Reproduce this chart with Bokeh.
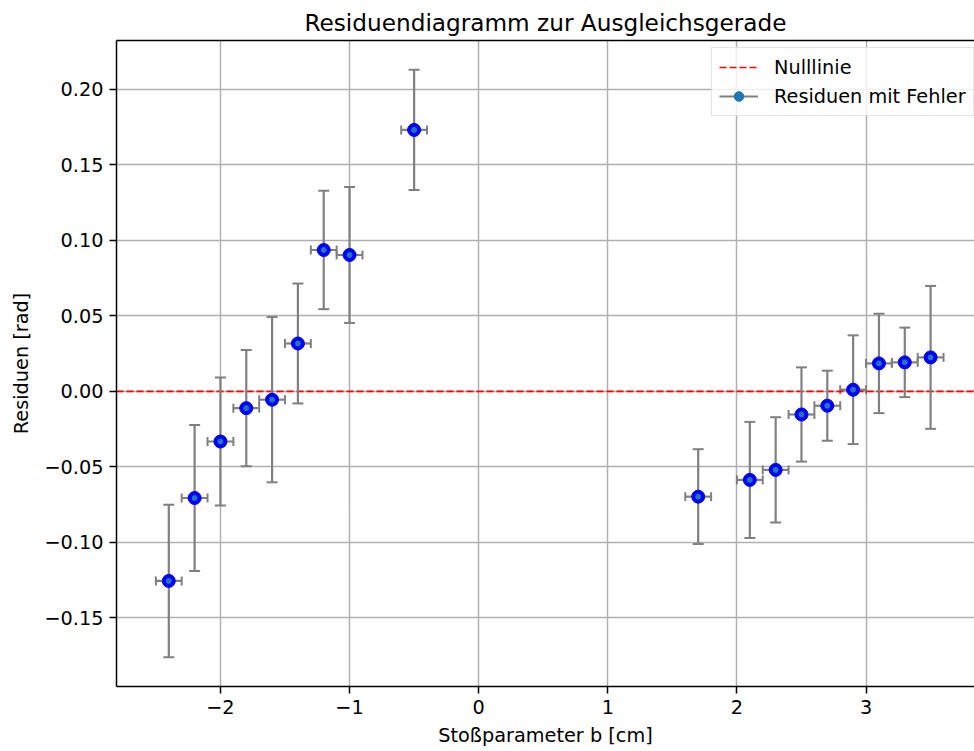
from bokeh.plotting import figure
from bokeh.models import (ColumnDataSource, Whisker, TeeHead, Legend, LegendItem,
                          CustomJSTickFormatter, FixedTicker, LinearAxis, Range1d)
from bokeh.embed import file_html
from bokeh.resources import INLINE

# data
b_values = [-2.4, -2.2, -2.0, -1.8, -1.6, -1.4, -1.2, -1.0, -0.5,
            1.7, 2.1, 2.3, 2.5, 2.7, 2.9, 3.1, 3.3, 3.5]
residuals = [-0.1255, -0.0706, -0.0332, -0.0111, -0.0055, 0.0317, 0.0936, 0.0903, 0.1731,
             -0.0697, -0.0586, -0.0520, -0.0153, -0.0095, 0.0011, 0.0185, 0.0192, 0.0225]
res_err = [0.0505, 0.0483, 0.0423, 0.0385, 0.0547, 0.0397, 0.0392, 0.0450, 0.0398,
           0.0314, 0.0384, 0.0349, 0.0312, 0.0232, 0.0360, 0.0329, 0.0230, 0.0473]
b_err = [0.1] * len(b_values)
x_ticks = [-2, -1, 0, 1, 2, 3]
y_ticks = [-0.15, -0.10, -0.05, 0.0, 0.05, 0.10, 0.15, 0.20]

FONT = "DejaVu Sans"
FS = "19.3px"

src = ColumnDataSource(dict(
    x=b_values, y=residuals,
    y_lo=[y - e for y, e in zip(residuals, res_err)],
    y_hi=[y + e for y, e in zip(residuals, res_err)],
    x_lo=[x - e for x, e in zip(b_values, b_err)],
    x_hi=[x + e for x, e in zip(b_values, b_err)],
))

p = figure(width=974, height=751, output_backend="svg", toolbar_location=None,
           x_range=Range1d(-2.805, 3.84), y_range=Range1d(-0.1954, 0.2323),
           min_border_left=116, min_border_right=0, min_border_top=40, min_border_bottom=65,
           title="Residuendiagramm zur Ausgleichsgerade")
p.background_fill_color = "white"
p.border_fill_color = "white"
p.outline_line_color = None

p.title.text_font = FONT
p.title.text_font_size = "23.2px"
p.title.text_font_style = "normal"
p.title.align = "center"
p.title.text_color = "black"
p.title.standoff = 9

# grid
p.xgrid.ticker = FixedTicker(ticks=x_ticks)
p.ygrid.ticker = FixedTicker(ticks=y_ticks)
for g in (p.xgrid, p.ygrid):
    g.grid_line_color = "#b0b0b0"
    g.grid_line_width = 1.5

fmt_x = CustomJSTickFormatter(code="return (tick < 0 ? '\u2212' : '') + Math.abs(tick).toFixed(0);")
fmt_y = CustomJSTickFormatter(code="return (tick < -1e-9 ? '\u2212' : '') + Math.abs(tick).toFixed(2);")
p.xaxis.ticker = FixedTicker(ticks=x_ticks)
p.yaxis.ticker = FixedTicker(ticks=y_ticks)
p.xaxis.formatter = fmt_x
p.yaxis.formatter = fmt_y
p.xaxis.axis_label = "Stoßparameter b [cm]"
p.yaxis.axis_label = "Residuen [rad]"
for ax in (p.xaxis, p.yaxis):
    ax.axis_label_text_font = FONT
    ax.axis_label_text_font_size = FS
    ax.axis_label_text_font_style = "normal"
    ax.axis_label_text_color = "black"
    ax.major_label_text_font = FONT
    ax.major_label_text_font_size = FS
    ax.major_label_text_color = "black"
    ax.axis_line_color = "black"
    ax.axis_line_width = 1.5
    ax.major_tick_line_color = "black"
    ax.major_tick_line_width = 1.5
    ax.major_tick_out = 7
    ax.major_tick_in = 0
    ax.minor_tick_line_color = None
    ax.major_label_standoff = 6
p.xaxis.axis_label_standoff = 7
p.yaxis.axis_label_standoff = 8

# top spine
top = LinearAxis(ticker=FixedTicker(ticks=[]), major_label_text_font_size="0px",
                 major_tick_line_color=None, minor_tick_line_color=None,
                 axis_line_color="black", axis_line_width=1.5)
p.add_layout(top, "above")

# zero line
zero = p.line(x=[-2.805, 3.84], y=[0, 0], line_color="red", line_dash="7 3", line_width=1.6)

# error bars
ybars = p.segment(x0="x", y0="y_lo", x1="x", y1="y_hi", source=src,
                  line_color="gray", line_width=2.2)
p.add_layout(Whisker(source=src, base="x", lower="y_lo", upper="y_hi", dimension="height",
                     line_alpha=0,
                     upper_head=TeeHead(size=11, line_color="gray", line_width=2),
                     lower_head=TeeHead(size=11, line_color="gray", line_width=2)))
p.add_layout(Whisker(source=src, base="y", lower="x_lo", upper="x_hi", dimension="width",
                     line_color="gray", line_width=2.2,
                     upper_head=TeeHead(size=9, line_color="gray", line_width=2),
                     lower_head=TeeHead(size=9, line_color="gray", line_width=2)))

p.scatter(x="x", y="y", source=src, size=13, fill_color="blue", line_color="blue")
dots = p.scatter(x="x", y="y", source=src, size=5, fill_color="#1f77b4", line_color="#1f77b4")

legend = Legend(items=[
    LegendItem(label="Nulllinie", renderers=[zero]),
    LegendItem(label="Residuen mit Fehler", renderers=[ybars, dots]),
], location=(595, 570))
legend.label_text_font = FONT
legend.label_text_font_size = FS
legend.label_text_color = "black"
legend.border_line_color = "#cccccc"
legend.border_line_width = 1.5
legend.background_fill_alpha = 0.8
legend.glyph_width = 39
legend.glyph_height = 24
legend.label_height = 24
legend.label_standoff = 16
legend.spacing = 5
legend.padding = 7
legend.margin = 0
p.add_layout(legend)

open("out.html", "w").write(file_html(p, INLINE))
